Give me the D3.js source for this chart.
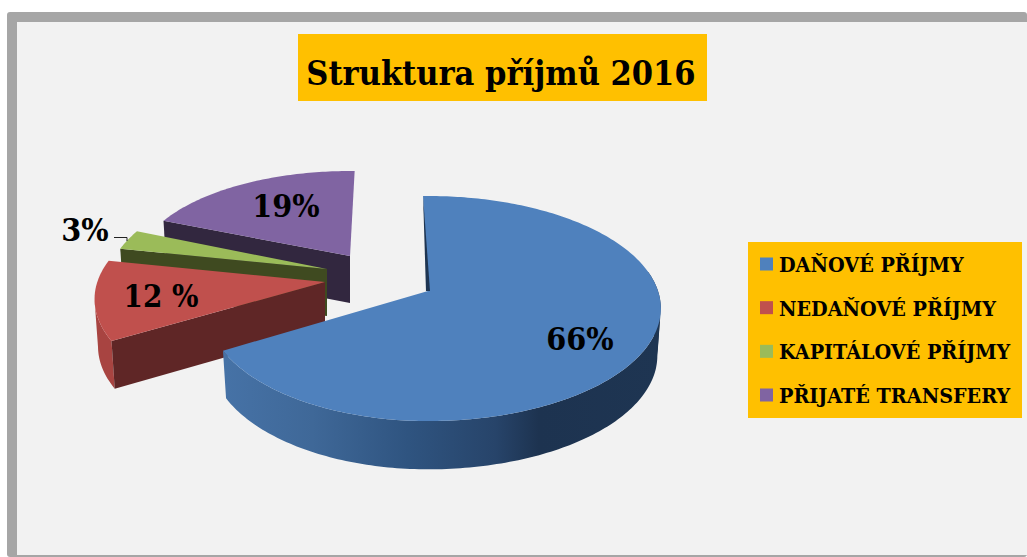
<!DOCTYPE html>
<html><head><meta charset="utf-8">
<script src="https://cdn.jsdelivr.net/npm/d3@7"></script>
<style>html,body{margin:0;padding:0;background:#fff}svg{display:block}</style>
</head><body><svg id="c" width="1027" height="557"></svg>
<script>
const categories=["DAŇOVÉ PŘÍJMY","NEDAŇOVÉ PŘÍJMY","KAPITÁLOVÉ PŘÍJMY","PŘIJATÉ TRANSFERY"];
const values=[66.5,11.5,3,19];
const valueLabels=["66%","12 %","3%","19%"];
const titleText="Struktura příjmů 2016";
const topColors=["#4f81bd","#c0504d","#9bbb59","#8064a2"];
const wallColors=["#1c3350","#5f2626","#3f4a20","#32273f"];
const rimColors=["#3f6a9c","#a84441","#9bbb59","#6f578d"];
// per-slice placement of the exploded wedges
const apexes=[[428,291],[325,282],[327,269],[350,256]];
const radii=[1,0.99,0.945,0.88];
const leftStretch=[0.95,1,1,1.05];
const FONT="'DejaVu Serif Condensed','DejaVu Serif',serif";
const k=0.1556,Rx=230,Ry=109.8,depth=47;
const svg=d3.select("#c");
const defs=svg.append("defs");
const grad=defs.append("linearGradient").attr("id","blueRim").attr("gradientUnits","userSpaceOnUse")
 .attr("x1",-203).attr("x2",233).attr("y1",0).attr("y2",0);
[[0,"#4672a6"],[0.2,"#3f6898"],[0.42,"#2f5480"],[0.62,"#27446a"],[0.72,"#1d3350"],[1,"#1e3552"]].forEach(s=>grad.append("stop").attr("offset",s[0]).attr("stop-color",s[1]));
// frame
svg.append("rect").attr("x",7).attr("y",12).attr("width",1020).attr("height",545).attr("rx",3).attr("fill","#a6a6a6");
svg.append("rect").attr("x",17).attr("y",22).attr("width",1010).attr("height",533).attr("fill","#f2f2f2");
// title
svg.append("rect").attr("x",298).attr("y",34).attr("width",409).attr("height",67).attr("fill","#ffc000");
svg.append("text").attr("x",501).attr("y",85).attr("text-anchor","middle").attr("font-family",FONT).attr("font-weight",700).attr("font-size",34).attr("fill","#000").text(titleText);
// pie
const deg=Math.PI/180;
const angle=d3.scaleLinear().domain([0,2*Math.PI]).range([-1.5*deg,2*Math.PI+1.5*deg]);
const pieData=d3.pie().sort(null)(values).map(d=>({startAngle:angle(d.startAngle),endAngle:angle(d.endAngle)}));
function proj(a,r,st){const u=Math.sin(a)*r,v=-Math.cos(a)*r,s=1/(1-k*v),x=Rx*u*s;return [x<0?x*st:x,Ry*v*s];}
const line=d3.line();
function rim(a0,a1,r,st){const n=Math.max(2,Math.ceil((a1-a0)/deg));return d3.range(n+1).map(i=>proj(a0+(a1-a0)*i/n,r,st));}
[3,2,1,0].forEach(i=>{
 const d=pieData[i],ap=apexes[i];
 const g=svg.append("g").attr("transform",`translate(${ap[0]},${ap[1]})`);
 const pts=rim(d.startAngle,d.endAngle,radii[i],leftStretch[i]);
 const low=p=>[p[0]*0.985,p[1]+depth+p[1]*0.01];
 const near=pts.filter(p=>p[1]>17);
 if(near.length>1){
  g.append("path").attr("d",line(near.concat(near.slice().reverse().map(low)))+"Z")
   .attr("fill",i===0?"url(#blueRim)":rimColors[i]);
 }
 if(i===0){
  const back=pts.filter(p=>p[0]>0&&p[1]<=18&&p[1]>-20);
  if(back.length>1) g.append("path").attr("d",line(back.concat(back.slice().reverse().map(low)))+"Z").attr("fill","#1e3552");
 } else {
  const edge=pts[0];
  g.append("path").attr("d",line([[0,0],edge,low(edge),low([0,0])])+"Z").attr("fill",wallColors[i]);
 }
 g.append("path").attr("d",line([[0,0],...pts])+"Z").attr("fill",topColors[i]);
 if(i===0){
  g.append("path").attr("d",line([pts[0],[2,0],[-2,0]])+"Z").attr("fill","#1e3552");
 }
});
// labels
const lab=[[580,350,32],[161,307,31],[85,241,32],[286,217,32]];
valueLabels.forEach((t,i)=>svg.append("text").attr("x",lab[i][0]).attr("y",lab[i][1]).attr("text-anchor","middle")
 .attr("font-family",FONT).attr("font-weight",700).attr("font-size",lab[i][2]).attr("fill","#000").text(t));
svg.append("path").attr("d","M114 237.5H127V241").attr("fill","none").attr("stroke","#222").attr("stroke-width",1);
// legend
svg.append("rect").attr("x",748).attr("y",242).attr("width",274).attr("height",176).attr("fill","#ffc000");
const ly=d3.scalePoint().domain(categories).range([264,395]);
categories.forEach((c,i)=>{
 svg.append("rect").attr("x",760).attr("y",ly(c)-6.5).attr("width",13).attr("height",13).attr("fill",topColors[i]);
 svg.append("text").attr("x",779).attr("y",ly(c)+8).attr("font-family",FONT).attr("font-weight",700).attr("font-size",21.3).attr("fill","#000").text(c);
});
</script></body></html>
